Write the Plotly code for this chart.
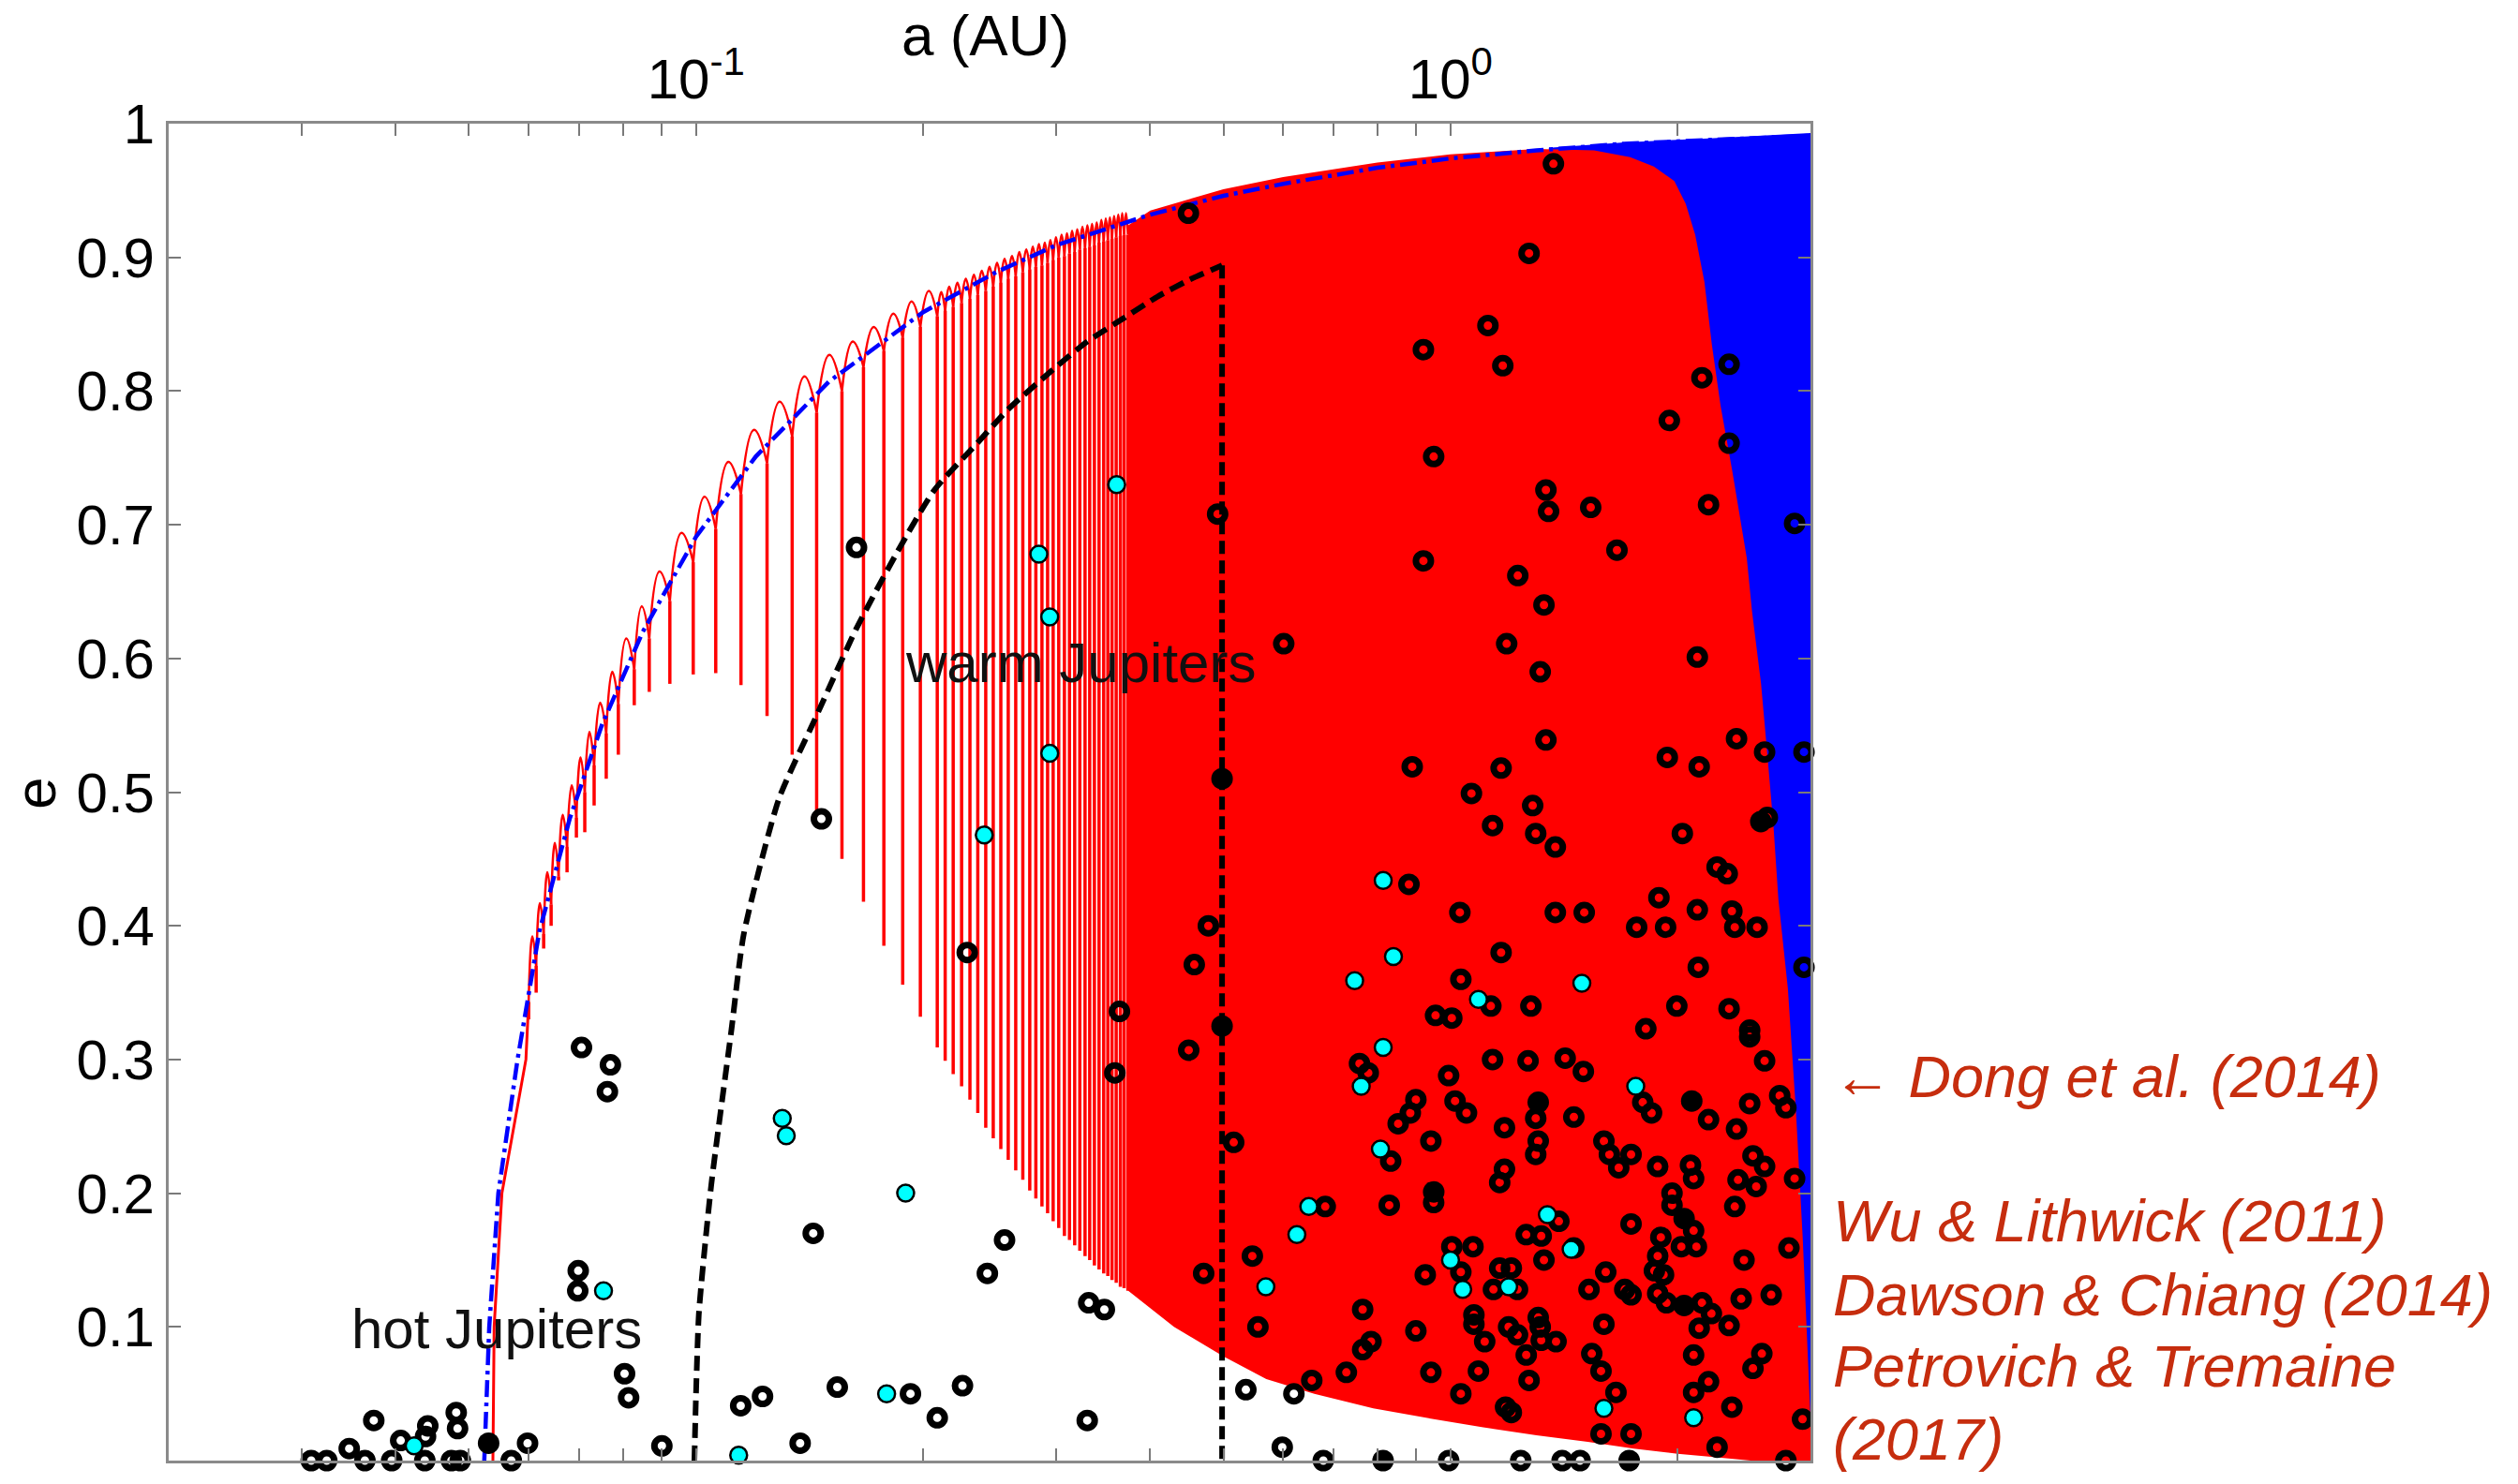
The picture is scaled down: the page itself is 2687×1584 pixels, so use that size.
import math
import plotly.graph_objects as go

# ---------------- data ----------------
# upper envelope (blue dash-dot line)
env_a = [0.0524, 0.0532, 0.0547, 0.0580, 0.062, 0.068, 0.075, 0.085, 0.10, 0.12, 0.15, 0.20,
         0.25, 0.30, 0.40, 0.50, 0.60, 0.80, 1.0, 1.3, 1.7, 2.2, 3.0]
env_e = [0.0, 0.10, 0.20, 0.30, 0.396, 0.480, 0.550, 0.620, 0.691, 0.751, 0.807, 0.859,
         0.889, 0.909, 0.932, 0.946, 0.955, 0.967, 0.974, 0.980, 0.985, 0.988, 0.991]

# black dashed boundary (warm Jupiter region): curve, then vertical side at 0.5 AU
wj_a = [0.0995, 0.1000, 0.1009, 0.1047, 0.1114, 0.1157, 0.1288, 0.1436, 0.163, 0.185,
        0.207, 0.235, 0.26, 0.30, 0.33, 0.37, 0.41, 0.45, 0.498]
wj_e = [0.0, 0.05, 0.111, 0.205, 0.322, 0.394, 0.495, 0.554, 0.622, 0.680,
        0.726, 0.760, 0.787, 0.818, 0.837, 0.855, 0.871, 0.883, 0.894]
wj_side_a = [0.498, 0.498]
wj_side_e = [0.894, 0.0]

# red spikes (vertical lines) of the migration region
spike_a = [0.06000, 0.06139, 0.06281, 0.06426, 0.06574, 0.06746, 0.06941, 0.07121, 0.07327,
           0.07603, 0.07889, 0.08282, 0.08670, 0.09232, 0.09915, 0.1062, 0.1147, 0.1242,
           0.1341, 0.1445, 0.1561, 0.1667, 0.1774, 0.1879, 0.1983,
           0.2088, 0.2139, 0.2192, 0.2249, 0.2307, 0.2363, 0.2421, 0.2477, 0.2535, 0.2593,
           0.2653, 0.2711, 0.2769, 0.2821, 0.2874, 0.2924, 0.2974, 0.3025, 0.3078, 0.3126,
           0.3176, 0.3226, 0.3278, 0.3325, 0.3373, 0.3421, 0.3470, 0.3514, 0.3559, 0.3605,
           0.3651, 0.3693, 0.3736]
spike_top = [0.343, 0.370, 0.394, 0.416, 0.437, 0.459, 0.481, 0.500, 0.520, 0.544, 0.566,
             0.592, 0.615, 0.643, 0.672, 0.697, 0.723, 0.746, 0.766, 0.784, 0.800, 0.818,
             0.830, 0.840, 0.848,
             0.856, 0.860, 0.863, 0.866, 0.869, 0.872, 0.875, 0.878, 0.881, 0.884,
             0.886, 0.889, 0.891, 0.893, 0.894, 0.896, 0.898, 0.900, 0.901, 0.903,
             0.904, 0.906, 0.907, 0.908, 0.909, 0.911, 0.912, 0.913, 0.914, 0.915,
             0.916, 0.917, 0.917]
spike_low = [0.330, 0.350, 0.383, 0.400, 0.434, 0.440, 0.466, 0.470, 0.490, 0.510, 0.528,
             0.565, 0.575, 0.581, 0.588, 0.589, 0.580, 0.557, 0.528, 0.485, 0.450, 0.418,
             0.385, 0.356, 0.332,
             0.309, 0.299, 0.289, 0.280, 0.270, 0.260, 0.249, 0.241, 0.233, 0.225,
             0.217, 0.210, 0.202, 0.196, 0.190, 0.185, 0.179, 0.174, 0.168, 0.165,
             0.161, 0.157, 0.153, 0.150, 0.146, 0.143, 0.140, 0.138, 0.135, 0.133,
             0.130, 0.129, 0.127]
arc_peak = [0.392, 0.417, 0.440, 0.462, 0.483, 0.505, 0.526, 0.545, 0.567, 0.590, 0.615,
            0.639, 0.665, 0.694, 0.721, 0.747, 0.771, 0.792, 0.811, 0.827, 0.837, 0.848,
            0.858, 0.867, 0.875,
            0.874, 0.878, 0.881, 0.884, 0.887, 0.890, 0.893, 0.896, 0.899, 0.901,
            0.904, 0.906, 0.908, 0.910, 0.911, 0.913, 0.915, 0.917, 0.918, 0.920,
            0.921, 0.923, 0.924, 0.925, 0.926, 0.928, 0.929, 0.930, 0.931, 0.932,
            0.933, 0.933]

# red outer edge at low eccentricity
edge_a = [0.0538, 0.0540, 0.0553, 0.0595, 0.0600]
edge_e = [0.0, 0.10, 0.20, 0.30, 0.343]

# solid red region outline
red_a = [0.374, 0.40, 0.50, 0.60, 0.80, 1.0, 1.3, 1.55, 1.73, 1.86, 1.98, 2.05, 2.11, 2.17,
         2.22, 2.28, 2.36, 2.47, 2.51, 2.58, 2.63, 2.68, 2.72, 2.80, 2.87, 2.93, 2.98, 3.0,
         3.0, 2.50, 2.20, 2.0, 1.75, 1.52, 1.30, 1.10, 0.95, 0.79, 0.66, 0.57, 0.50, 0.43,
         0.374]
red_e = [0.924, 0.935, 0.951, 0.960, 0.971, 0.977, 0.981, 0.980, 0.975, 0.968, 0.957, 0.940,
         0.917, 0.882, 0.835, 0.789, 0.742, 0.675, 0.635, 0.581, 0.528, 0.474, 0.420, 0.353,
         0.261, 0.166, 0.070, 0.030, 0.0, 0.0, 0.003, 0.005, 0.009, 0.014, 0.019, 0.025,
         0.031, 0.039, 0.050, 0.061, 0.078, 0.100, 0.127]

# blue region outline
blue_a = [1.35, 1.7, 2.2, 3.0, 3.0, 2.95, 2.6, 2.2, 1.8, 1.35]
blue_e = [0.982, 0.986, 0.989, 0.993, 0.0, 0.0, 0.30, 0.60, 0.90, 0.96]

# planets (open black circles)
black_a = [0.0309, 0.0324, 0.0347, 0.0364, 0.0374, 0.0395, 0.0406, 0.0437, 0.0441, 0.0438,
           0.0481, 0.0483, 0.0474, 0.0487, 0.0569, 0.0598, 0.0698, 0.0697, 0.0705, 0.0770,
           0.0763, 0.0804, 0.0814, 0.0901, 0.1146, 0.1225, 0.1374, 0.1430, 0.1539, 0.1924,
           0.2088, 0.1632, 0.1466, 0.2288, 0.2564, 0.2433, 0.3315, 0.3477, 0.2255, 0.3300,
           0.4494, 0.4913, 0.4776, 0.4575, 0.3641, 0.4498, 0.3590, 0.5160, 0.4708, 0.5355,
           0.5462, 0.5556, 0.5984, 0.6200, 0.6548, 0.6783, 0.7277, 0.7648, 0.7648, 0.7846,
           0.8997, 0.9418, 0.9943, 1.032, 1.074, 1.074, 1.089, 1.110, 1.183, 1.204,
           1.194, 1.227, 1.260, 1.271, 1.239, 1.307, 1.319, 1.315, 1.380, 1.406,
           1.485, 1.539, 1.583, 1.583, 1.597, 1.657, 1.735, 2.100, 2.100, 2.198,
           2.256, 2.360, 2.517, 2.586, 2.783, 2.928, 0.7575, 0.7780, 0.9943, 1.137,
           1.267, 1.419, 1.500, 1.798, 1.847, 2.198, 2.394, 2.492, 2.608, 2.492,
           2.731, 2.783, 2.858, 2.809, 2.661, 0.8997, 0.8845, 0.8524, 1.014, 1.050,
           0.9418, 1.179, 1.297, 1.307, 1.297, 1.457, 0.8331, 1.597, 1.624, 1.735,
           1.882, 2.080, 2.100, 2.405, 2.517, 2.608, 2.542, 1.179, 1.162, 0.9499,
           0.8295, 0.6823, 1.392, 1.260, 1.319, 1.457, 1.735, 1.966, 1.966, 2.100,
           2.118, 1.900, 2.023, 2.381, 2.449, 2.428, 1.882, 1.916, 1.882, 1.933,
           2.154, 2.217, 2.340, 2.136, 1.735, 1.702, 1.606, 1.526, 1.330, 1.162,
           1.204, 1.227, 1.140, 1.004, 1.071, 1.032, 0.9259, 1.863, 1.671, 0.6011,
           1.338, 1.349, 1.534, 2.198, 2.858, 0.9206, 1.228, 1.662, 1.330, 1.187,
           1.315, 2.124, 1.338, 2.394, 2.608, 2.941, 0.8897, 1.167, 1.938, 2.136,
           1.066, 1.285, 1.137, 1.297, 1.377, 2.630, 2.029, 2.256, 2.327, 2.941,
           0.8809, 1.029, 1.377, 1.504, 1.889, 2.124, 2.360, 1.765, 1.928, 2.381,
           2.549, 1.167, 2.130, 1.032, 1.131, 1.278, 0.9554, 1.004, 1.995, 2.340,
           1.815, 2.492, 1.369, 1.271, 1.121, 0.9206, 1.173, 2.340, 2.154, 1.950,
           2.340, 0.9499]
black_e = [0.0, 0.0, 0.009, 0.0, 0.030, 0.0, 0.015, 0.0, 0.026, 0.018,
           0.036, 0.024, 0.0, 0.0, 0.0, 0.013, 0.142, 0.127, 0.309, 0.296,
           0.276, 0.065, 0.047, 0.011, 0.041, 0.048, 0.013, 0.170, 0.055, 0.050,
           0.032, 0.683, 0.480, 0.380, 0.165, 0.140, 0.118, 0.113, 0.056, 0.030,
           0.933, 0.708, 0.400, 0.371, 0.336, 0.307, 0.290, 0.238, 0.140, 0.053,
           0.153, 0.100, 0.010, 0.050, 0.060, 0.0, 0.066, 0.113, 0.083, 0.089,
           0.097, 0.066, 0.0, 0.050, 0.109, 0.102, 0.067, 0.089, 0.040, 0.036,
           0.100, 0.094, 0.079, 0.060, 0.0, 0.107, 0.090, 0.100, 0.089, 0.0,
           0.0, 0.080, 0.067, 0.020, 0.102, 0.051, 0.020, 0.079, 0.051, 0.059,
           0.010, 0.040, 0.069, 0.080, 0.0, 0.031, 0.297, 0.290, 0.288, 0.300,
           0.299, 0.301, 0.291, 0.268, 0.260, 0.255, 0.248, 0.267, 0.299, 0.317,
           0.273, 0.264, 0.211, 0.159, 0.124, 0.270, 0.260, 0.252, 0.269, 0.260,
           0.239, 0.249, 0.256, 0.239, 0.229, 0.257, 0.224, 0.239, 0.229, 0.229,
           0.220, 0.221, 0.211, 0.210, 0.228, 0.220, 0.205, 0.218, 0.208, 0.193,
           0.191, 0.190, 0.179, 0.169, 0.168, 0.159, 0.177, 0.200, 0.191, 0.172,
           0.160, 0.167, 0.160, 0.190, 0.150, 0.121, 0.153, 0.139, 0.125, 0.118,
           0.118, 0.110, 0.101, 0.099, 0.124, 0.128, 0.141, 0.128, 0.150, 0.144,
           0.144, 0.128, 0.128, 0.160, 0.160, 0.141, 0.139, 0.142, 0.219, 0.611,
           0.726, 0.710, 0.713, 0.715, 0.701, 0.673, 0.662, 0.681, 0.640, 0.611,
           0.590, 0.601, 0.539, 0.540, 0.530, 0.530, 0.519, 0.518, 0.526, 0.519,
           0.499, 0.490, 0.475, 0.469, 0.459, 0.481, 0.469, 0.444, 0.439, 0.369,
           0.431, 0.410, 0.410, 0.410, 0.421, 0.412, 0.411, 0.399, 0.399, 0.399,
           0.399, 0.380, 0.369, 0.360, 0.340, 0.340, 0.333, 0.331, 0.340, 0.338,
           0.323, 0.322, 0.970, 0.903, 0.849, 0.831, 0.819, 0.820, 0.810, 0.778,
           0.761, 0.751]

# overlapping planets (drawn as solid black dots)
dup_a = [0.0531, 0.498, 0.498, 0.814, 1.725, 2.088, 1.307, 0.950, 2.040, 2.040, 2.578]
dup_e = [0.013, 0.510, 0.325, 0.0, 0.0, 0.269, 0.268, 0.201, 0.181, 0.116, 0.478]

# cyan planets
cyan_a = [0.0423, 0.0754, 0.1139, 0.1301, 0.1317, 0.1789, 0.1896, 0.3610, 0.2847, 0.2943,
          0.2943, 0.2410, 0.5692, 0.8143, 0.7615, 1.760, 0.8074, 0.6489, 0.6257, 1.344,
          1.445, 1.194, 1.000, 1.038, 1.597, 2.100, 0.8143, 0.8402, 0.7464, 1.493, 1.089]
cyan_e = [0.011, 0.127, 0.004, 0.256, 0.243, 0.050, 0.200, 0.730, 0.678, 0.631,
          0.529, 0.468, 0.130, 0.309, 0.280, 0.280, 0.233, 0.190, 0.169, 0.184,
          0.158, 0.130, 0.150, 0.128, 0.039, 0.032, 0.434, 0.377, 0.359, 0.357, 0.345]

x_tick_vals = [0.02, 0.03, 0.04, 0.05, 0.06, 0.07, 0.08, 0.09, 0.1, 0.2, 0.3, 0.4, 0.5,
               0.6, 0.7, 0.8, 0.9, 1, 2, 3]
x_tick_text = ['', '', '', '', '', '', '', '', '10<sup>-1</sup>', '', '', '', '', '', '',
               '', '', '10<sup>0</sup>', '', '']
y_tick_vals = [0, 0.1, 0.2, 0.3, 0.4, 0.5, 0.6, 0.7, 0.8, 0.9, 1.0]
y_tick_text = ['0', '0.1', '0.2', '0.3', '0.4', '0.5', '0.6', '0.7', '0.8', '0.9', '1']

refs = ['\u2190 Dong et al. (2014)', 'Wu & Lithwick (2011)', 'Dawson & Chiang (2014)',
        'Petrovich & Tremaine', '(2017)']
refs_y = [0.2873, 0.1794, 0.1240, 0.0708, 0.0161]

# ---------------- figure ----------------
RED = '#FF0000'
BLUE = '#0000FF'
fig = go.Figure()

fig.add_trace(go.Scatter(x=blue_a, y=blue_e, mode='lines', fill='toself', fillcolor=BLUE,
                         line=dict(width=0, color=BLUE), hoverinfo='skip'))
fig.add_trace(go.Scatter(x=red_a, y=red_e, mode='lines', fill='toself', fillcolor=RED,
                         line=dict(width=0, color=RED), hoverinfo='skip'))

sx, sy = [], []
for a, t, l in zip(spike_a, spike_top, spike_low):
    sx += [a, a, None]
    sy += [t, l, None]
fig.add_trace(go.Scatter(x=sx, y=sy, mode='lines', line=dict(color=RED, width=3.5),
                         hoverinfo='skip'))

ax_, ay_ = [], []
for i in range(len(spike_a) - 1):
    am = math.sqrt(spike_a[i] * spike_a[i + 1])
    ax_ += [spike_a[i], am, spike_a[i + 1], None]
    ay_ += [spike_top[i], arc_peak[i], spike_top[i + 1], None]
fig.add_trace(go.Scatter(x=ax_, y=ay_, mode='lines',
                         line=dict(color=RED, width=2.5, shape='spline', smoothing=1.3),
                         hoverinfo='skip'))
fig.add_trace(go.Scatter(x=edge_a, y=edge_e, mode='lines', line=dict(color=RED, width=3),
                         hoverinfo='skip'))

fig.add_trace(go.Scatter(x=env_a, y=env_e, mode='lines',
                         line=dict(color=BLUE, width=4.5, dash='18px,6px,4px,6px'),
                         hoverinfo='skip'))
fig.add_trace(go.Scatter(x=wj_a, y=wj_e, mode='lines',
                         line=dict(color='black', width=6, dash='16px,8px', shape='spline',
                                   smoothing=0.6),
                         hoverinfo='skip'))
fig.add_trace(go.Scatter(x=wj_side_a, y=wj_side_e, mode='lines',
                         line=dict(color='black', width=6, dash='14px,7px'),
                         hoverinfo='skip'))

fig.add_trace(go.Scatter(x=black_a, y=black_e, mode='markers', cliponaxis=False,
                         marker=dict(symbol='circle-open', size=16, color='black',
                                     line=dict(width=7, color='black'))))
fig.add_trace(go.Scatter(x=dup_a, y=dup_e, mode='markers', cliponaxis=False,
                         marker=dict(symbol='circle', size=23, color='black',
                                     line=dict(width=0))))
fig.add_trace(go.Scatter(x=cyan_a, y=cyan_e, mode='markers', cliponaxis=False,
                         marker=dict(symbol='circle', size=18, color='#00FFFF',
                                     line=dict(width=2.5, color='black'))))

FONT = 'Liberation Sans, Arial, Helvetica, sans-serif'
ann = [
    dict(text='a (AU)', x=0.4977, y=1.066, xref='paper', yref='paper', showarrow=False,
         font=dict(size=62, family=FONT, color='black'), xanchor='center', yanchor='middle'),
    dict(text='e', x=-0.081, y=0.499, xref='paper', yref='paper', showarrow=False,
         textangle=-90, font=dict(size=62, family=FONT, color='black'),
         xanchor='center', yanchor='middle'),
    dict(text='warm Jupiters', x=0.5554, y=0.597, xref='paper', yref='paper',
         showarrow=False, font=dict(size=60, family=FONT, color='#111111'),
         xanchor='center', yanchor='middle'),
    dict(text='hot Jupiters', x=0.1998, y=0.0988, xref='paper', yref='paper',
         showarrow=False, font=dict(size=60, family=FONT, color='#111111'),
         xanchor='center', yanchor='middle'),
    dict(text='5', x=1.3955, y=-0.0091, xref='paper', yref='paper', showarrow=False,
         font=dict(size=50, family=FONT, color='#d4d4d4'), xanchor='center', yanchor='top'),
]
for t, yy in zip(refs, refs_y):
    ann.append(dict(text='<i>' + t + '</i>', x=1.0126, y=yy, xref='paper', yref='paper',
                    showarrow=False, font=dict(size=63, family=FONT, color='#C62D0E'),
                    xanchor='left', yanchor='middle'))

fig.update_layout(
    width=2687, height=1584,
    margin=dict(l=180, r=755, t=132, b=25, autoexpand=False),
    paper_bgcolor='white', plot_bgcolor='white', showlegend=False,
    font=dict(family=FONT, size=60, color='black'),
    annotations=ann,
)
fig.update_xaxes(type='log', range=[math.log10(0.02), math.log10(3)], side='top',
                 tickvals=x_tick_vals, ticktext=x_tick_text, tickangle=0, automargin=False,
                 ticks='inside', ticklen=13,
                 tickwidth=2, tickcolor='#7a7a7a', showline=True, linecolor='#8a8a8a',
                 linewidth=3, mirror='ticks', showgrid=False, zeroline=False,
                 tickfont=dict(size=60, family=FONT, color='black'))
fig.update_yaxes(range=[0, 1], tickvals=y_tick_vals, ticktext=y_tick_text, ticks='inside',
                 automargin=False,
                 ticklen=13, tickwidth=2, tickcolor='#7a7a7a', showline=True,
                 linecolor='#8a8a8a', linewidth=3, mirror='ticks', showgrid=False,
                 zeroline=False, tickfont=dict(size=60, family=FONT, color='black'))

fig.write_html('out.html')
